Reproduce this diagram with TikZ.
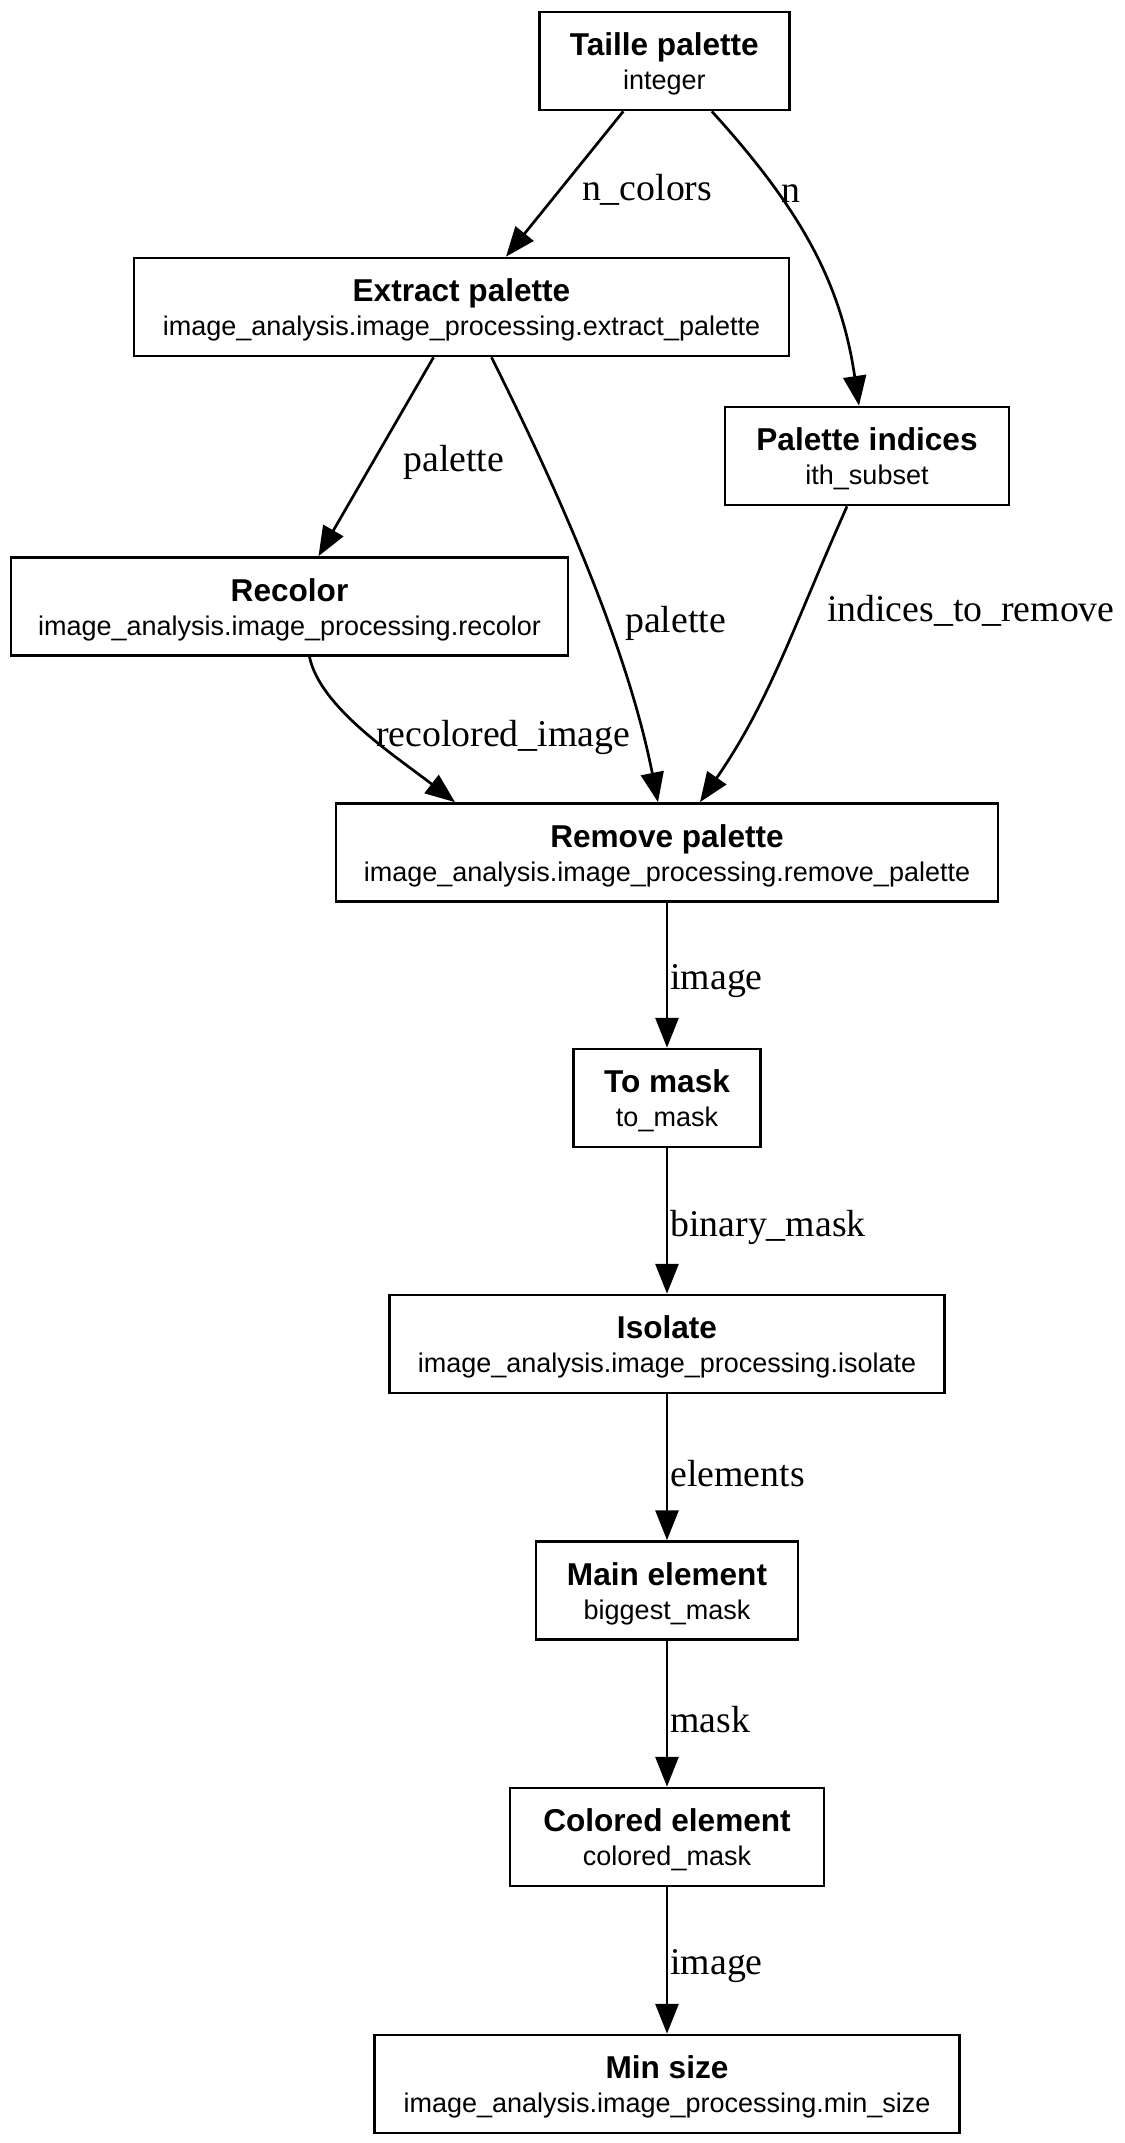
\documentclass[tikz,border=0pt]{standalone}
\usepackage{fontspec}
\setmainfont{Liberation Serif}
\setsansfont{Liberation Sans}
\usetikzlibrary{arrows.meta,calc}
\newcommand{\pxu}{0.37037pt}
\tikzset{
  box/.style={draw, line width=1pt, rectangle, inner sep=0pt, minimum height={98*\pxu}},
  ttl/.style={font=\sffamily\bfseries\fontsize{11.7}{12}\selectfont, inner sep=0pt, anchor=base},
  sub/.style={font=\sffamily\fontsize{10}{10}\selectfont, inner sep=0pt, anchor=base},
  lbl/.style={font=\rmfamily\fontsize{14}{14}\selectfont, inner sep=0pt, yshift={-6*\pxu}},
  conn/.style={line width=1pt, -{Triangle[length=11pt,width=8.5pt]}}
}
\newcommand{\gvnode}[6]{%
  \node[box, minimum width={#4*\pxu}] (#1) at (#2,#3) {};
  \node[ttl] (#1-t) at ($(#1.center)+(0,-5.5)$) {#5};
  \node[sub] (#1-s) at ($(#1.center)+(0,28.5)$) {#6};}
\begin{document}
\begin{tikzpicture}[x=0.37037pt, y=-0.37037pt]
\useasboundingbox (0,0) rectangle (1124,2143);
\gvnode{tai}{664.3}{61}{250}{Taille palette}{integer}
\gvnode{ext}{461.5}{307}{655}{Extract palette}{image\_analysis.image\_processing.extract\_palette}
\gvnode{pal}{867}{456}{284}{Palette indices}{ith\_subset}
\gvnode{rec}{289.5}{606.5}{557}{Recolor}{image\_analysis.image\_processing.recolor}
\gvnode{rem}{667}{852.5}{662}{Remove palette}{image\_analysis.image\_processing.remove\_palette}
\gvnode{tom}{667}{1098}{187}{To mask}{to\_mask}
\gvnode{iso}{667}{1344}{555}{Isolate}{image\_analysis.image\_processing.isolate}
\gvnode{mai}{667}{1590.5}{262}{Main element}{biggest\_mask}
\gvnode{col}{667}{1837}{314}{Colored element}{colored\_mask}
\gvnode{min}{667}{2084}{585}{Min size}{image\_analysis.image\_processing.min\_size}

\draw[conn] ($(tai.south)+(-41,0)$) -- node[lbl, pos=0.5, anchor=west, xshift={16*\pxu}] (l1) {n\_colors} ($(ext.north)+(44.5,0)$);
\draw[conn] ($(tai.south)+(47.5,0)$) .. controls +(90,99) and +(-18,-122) .. node[lbl, pos=0.27, anchor=west, xshift={6*\pxu}] (l2) {n} ($(pal.north)+(-8,0)$);
\draw[conn] ($(ext.south)+(-28,0)$) -- node[lbl, pos=0.5, anchor=west, xshift={26*\pxu}] (l3) {palette} ($(rec.north)+(29,0)$);
\draw[conn] ($(ext.south)+(30,0)$) .. controls +(80.5,161) and +(-28,-141.5) .. node[lbl, pos=0.57, anchor=west, xshift={18*\pxu}] (l4) {palette} ($(rem.north)+(-9,0)$);
\draw[conn] ($(pal.south)+(-20,0)$) .. controls +(-54,121) and +(70,-101.5) .. node[lbl, pos=0.3, anchor=west, xshift={21*\pxu}] (l5) {indices\_to\_remove} ($(rem.north)+(33,0)$);
\draw[conn] ($(rec.south)+(20,0)$) .. controls +(10.5,50.5) and +(-60,-46.5) .. node[lbl, pos=0.5, anchor=west, xshift={11*\pxu}] (l6) {recolored\_image} ($(rem.north)+(-212,0)$);

\draw[conn] (rem.south) -- node[lbl, midway, anchor=west, xshift={2*\pxu}] (l7) {image} (tom.north);
\draw[conn] (tom.south) -- node[lbl, midway, anchor=west, xshift={2*\pxu}] (l8) {binary\_mask} (iso.north);
\draw[conn] (iso.south) -- node[lbl, midway, anchor=west, xshift={2*\pxu}] (l9) {elements} (mai.north);
\draw[conn] (mai.south) -- node[lbl, midway, anchor=west, xshift={2*\pxu}] (l10) {mask} (col.north);
\draw[conn] (col.south) -- node[lbl, midway, anchor=west, xshift={2*\pxu}] (l11) {image} (min.north);
\end{tikzpicture}
\end{document}
